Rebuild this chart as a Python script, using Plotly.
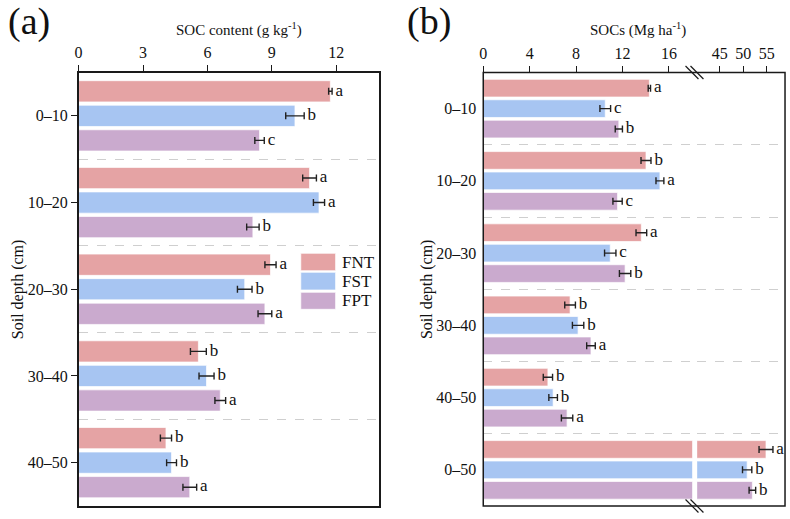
import plotly.graph_objects as go

# ---------------- data ----------------
series = ["FNT", "FST", "FPT"]
colors = ["#E5A3A4", "#A7C5F2", "#CAAACE"]

depth_a = ["0–10", "10–20", "20–30", "30–40", "40–50"]
soc_FNT = [11.73, 10.76, 8.94, 5.58, 4.07]
soc_FST = [10.08, 11.20, 7.74, 5.96, 4.33]
soc_FPT = [8.43, 8.12, 8.68, 6.60, 5.18]
soc_err_FNT = [0.08, 0.32, 0.26, 0.37, 0.26]
soc_err_FST = [0.43, 0.26, 0.34, 0.35, 0.23]
soc_err_FPT = [0.22, 0.29, 0.32, 0.25, 0.32]
soc_let_FNT = ["a", "a", "a", "b", "b"]
soc_let_FST = ["b", "a", "b", "b", "b"]
soc_let_FPT = ["c", "b", "a", "a", "a"]

depth_b = ["0–10", "10–20", "20–30", "30–40", "40–50", "0–50"]
socs_FNT = [14.31, 14.02, 13.62, 7.48, 5.57, 54.85]
socs_FST = [10.51, 15.22, 10.94, 8.17, 6.02, 50.84]
socs_FPT = [11.68, 11.57, 12.22, 9.28, 7.22, 51.95]
socs_err_FNT = [0.10, 0.43, 0.46, 0.46, 0.40, 1.48]
socs_err_FST = [0.46, 0.34, 0.49, 0.49, 0.37, 0.99]
socs_err_FPT = [0.31, 0.40, 0.49, 0.37, 0.49, 0.70]
socs_let_FNT = ["a", "b", "a", "b", "b", "a"]
socs_let_FST = ["c", "a", "c", "b", "b", "b"]
socs_let_FPT = ["b", "c", "b", "a", "a", "b"]

ticks_a = [0, 3, 6, 9, 12]
ticks_b_left = [0, 4, 8, 12, 16]
ticks_b_right = [45, 50, 55]

# ---------------- layout constants ----------------
W, H = 790, 519
FONT = "Liberation Serif"
PITCH = 0.283   # spacing between bars inside a group (category units)
BW = 0.245      # bar thickness
LINE = "#1a1a1a"
TXT = "#111111"

def px(x):
    return x / W

def py(y):
    return 1 - y / H

top_px, bot_px = 72.5, 506
ydom = [py(bot_px), py(top_px)]
xa_dom = [px(75), px(377)]
xb1_dom = [px(481.7), px(691.7)]
xb2_dom = [px(696.7), px(785)]

fig = go.Figure()

vals_a = [soc_FNT, soc_FST, soc_FPT]
errs_a = [soc_err_FNT, soc_err_FST, soc_err_FPT]
lets_a = [soc_let_FNT, soc_let_FST, soc_let_FPT]
vals_b = [socs_FNT, socs_FST, socs_FPT]
errs_b = [socs_err_FNT, socs_err_FST, socs_err_FPT]
lets_b = [socs_let_FNT, socs_let_FST, socs_let_FPT]

err_style = dict(type="data", color="#222222", thickness=1.4, width=3.5)
bar_line = dict(color="rgba(255,255,255,0.7)", width=1)

def add_panel(vals, errs, lets, idx, xaxis, yaxis, with_err=True):
    for k in range(3):
        ypos = [i + (k - 1) * PITCH for i in idx]
        xv = [vals[k][i] for i in idx]
        ev = [errs[k][i] for i in idx]
        fig.add_trace(go.Bar(
            x=xv, y=ypos, orientation="h", width=BW,
            marker=dict(color=colors[k], line=bar_line),
            error_x=dict(array=ev, visible=with_err, **err_style),
            name=series[k], showlegend=False, xaxis=xaxis, yaxis=yaxis,
            hoverinfo="skip",
        ))
        if with_err:
            fig.add_trace(go.Scatter(
                x=[a + b for a, b in zip(xv, ev)], y=ypos, mode="text",
                text=["\u2009" + lets[k][i] for i in idx], textposition="middle right",
                textfont=dict(family=FONT, size=17, color=TXT),
                showlegend=False, xaxis=xaxis, yaxis=yaxis, hoverinfo="skip",
            ))

nb = len(depth_b)
# panel (a)
add_panel(vals_a, errs_a, lets_a, list(range(len(depth_a))), "x", "y")
# panel (b): left segment (layers), right segment (0–50 total)
add_panel(vals_b, errs_b, lets_b, list(range(nb - 1)), "x2", "y2")
add_panel(vals_b, errs_b, lets_b, [nb - 1], "x3", "y3")
# the total bars also run (clipped) through the left segment
add_panel(vals_b, errs_b, lets_b, [nb - 1], "x2", "y2", with_err=False)

tickfont = dict(family=FONT, size=16, color=TXT)

def yaxis_cfg(cats, anchor, show_labels, ticks):
    n = len(cats)
    return dict(
        domain=ydom, anchor=anchor, range=[n - 0.5, -0.5],
        tickmode="array", tickvals=list(range(n)), ticktext=cats,
        showticklabels=show_labels, ticks=ticks, ticklen=6, tickwidth=1.3, tickcolor=LINE,
        tickfont=tickfont, showgrid=False, zeroline=False,
        minor=dict(tickmode="array", tickvals=[i + 0.5 for i in range(n - 1)],
                   showgrid=True, gridcolor="#cfcfcf", griddash="dash", gridwidth=1, ticks=""),
    )

def xaxis_cfg(dom, anchor, rng, tv, **kw):
    d = dict(domain=dom, anchor=anchor, side="top", range=rng,
             tickmode="array", tickvals=tv, ticks="outside", ticklen=6, tickwidth=1.3,
             tickcolor=LINE, tickfont=tickfont, showgrid=False, zeroline=False)
    d.update(kw)
    return d

fig.update_layout(
    width=W, height=H, margin=dict(l=0, r=0, t=0, b=0),
    paper_bgcolor="white", plot_bgcolor="white",
    barmode="overlay", showlegend=False,
    font=dict(family=FONT, color=TXT),
    xaxis=xaxis_cfg(xa_dom, "y", [0, 14], ticks_a, showline=True, linecolor=LINE,
                    linewidth=1.5, mirror=True),
    yaxis=dict(**yaxis_cfg(depth_a, "x", True, "outside"), showline=True, linecolor=LINE,
               linewidth=1.5, mirror=True),
    xaxis2=xaxis_cfg(xb1_dom, "y2", [0, 18], ticks_b_left, showline=False),
    yaxis2=dict(**yaxis_cfg(depth_b, "x2", True, ""), ticklabelstandoff=6),
    xaxis3=xaxis_cfg(xb2_dom, "y3", [40.2, 58.9], ticks_b_right, showline=False),
    yaxis3=yaxis_cfg(depth_b, "x3", False, ""),
)

shapes = []
# frame of panel (b)
shapes.append(dict(type="rect", xref="paper", yref="paper", x0=xb1_dom[0], x1=xb2_dom[1],
                   y0=ydom[0], y1=ydom[1], line=dict(color=LINE, width=1.5), layer="above"))
# axis break marks
for yb in (top_px, bot_px):
    for dx in (-2.5, 2.5):
        cx = 694 + dx
        shapes.append(dict(type="line", xref="paper", yref="paper",
                           x0=px(cx - 6.5), y0=py(yb - 6.5), x1=px(cx + 6.5), y1=py(yb + 6.5),
                           line=dict(color=LINE, width=1.2), layer="above"))
# legend swatches
leg_rows = [(253.3, 270.7), (272.3, 290.0), (292.3, 309.3)]
for k, (y0, y1) in enumerate(leg_rows):
    shapes.append(dict(type="rect", xref="paper", yref="paper", x0=px(298.3), x1=px(333.3),
                       y0=py(y1), y1=py(y0), fillcolor=colors[k], line=bar_line))
fig.update_layout(shapes=shapes)

ann = []
for k, (y0, y1) in enumerate(leg_rows):
    ann.append(dict(text=series[k], xref="paper", yref="paper", x=px(338), y=py((y0 + y1) / 2),
                    xanchor="left", yanchor="middle", showarrow=False,
                    font=dict(family=FONT, size=17, color=TXT)))

def note(text, x, y, size, angle=0):
    return dict(text=text, x=px(x), y=py(y), xref="paper", yref="paper", showarrow=False,
                xanchor="center", yanchor="middle", textangle=angle,
                font=dict(family=FONT, size=size, color=TXT))

mid_y = (top_px + bot_px) / 2
ann += [
    note("(a)", 25, 22, 38),
    note("(b)", 427, 22, 38),
    note("SOC content (g kg<sup>-1</sup>)", 236, 30, 15),
    note("SOCs (Mg ha<sup>-1</sup>)", 637, 30, 15),
    note("Soil depth (cm)", 14, mid_y, 16, -90),
    note("Soil depth (cm)", 425, mid_y, 16, -90),
]
fig.update_layout(annotations=ann)

fig.write_html("out.html")
